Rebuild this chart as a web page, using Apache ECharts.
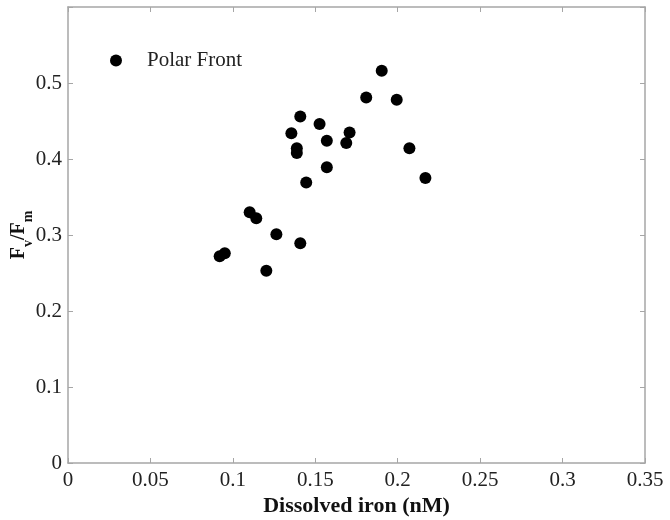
<!DOCTYPE html>
<html>
<head>
<meta charset="utf-8">
<script src="https://cdn.jsdelivr.net/npm/echarts@6/dist/echarts.min.js"></script>
<style>
html,body{margin:0;padding:0;background:#fff;}
#chart{width:670px;height:520px;}
</style>
</head>
<body>
<div id="chart"></div>
<script>
const seriesName = 'Polar Front';
const ironValues = [0.1903, 0.1809, 0.1994, 0.1409, 0.1526, 0.1355, 0.1708, 0.1570, 0.1688, 0.2071, 0.1388, 0.1388, 0.1570, 0.2168, 0.1445, 0.1102, 0.1142, 0.1264, 0.1409, 0.0951, 0.0920, 0.1203];
const fvfmValues = [0.516, 0.481, 0.478, 0.456, 0.446, 0.434, 0.435, 0.424, 0.421, 0.414, 0.414, 0.408, 0.389, 0.375, 0.369, 0.330, 0.322, 0.301, 0.289, 0.276, 0.272, 0.253];
const xTicks = [0, 0.05, 0.1, 0.15, 0.2, 0.25, 0.3, 0.35];
const yTicks = [0, 0.1, 0.2, 0.3, 0.4, 0.5, 0.6];

const points = ironValues.map((x, i) => [x, fvfmValues[i]]);
const FONT = '"Liberation Serif", "Times New Roman", serif';
const axisGrey = '#a6a6a6';

const chart = echarts.init(document.getElementById('chart'), null, {renderer: 'canvas'});
const baseAxisLine = {show: true, onZero: false, lineStyle: {color: axisGrey, width: 1.5}};
const baseTick = {show: true, inside: true, length: 5, lineStyle: {color: axisGrey, width: 1}};

chart.setOption({
  animation: false,
  backgroundColor: '#fff',
  grid: {left: 68, right: 25, top: 7, bottom: 57, containLabel: false, outerBoundsMode: 'none'},
  legend: {
    show: true,
    left: 105,
    top: 45,
    data: [seriesName],
    icon: 'circle',
    itemWidth: 12,
    itemHeight: 12,
    itemStyle: {opacity: 1},
    textStyle: {fontFamily: FONT, fontSize: 21, color: '#222', padding: [0, 0, 0, 20]}
  },
  xAxis: [{
    type: 'value',
    min: xTicks[0],
    max: xTicks[xTicks.length - 1],
    interval: 0.05,
    position: 'bottom',
    name: 'Dissolved iron (nM)',
    nameLocation: 'middle',
    nameGap: 32,
    nameMoveOverlap: false,
    nameTextStyle: {fontFamily: FONT, fontSize: 22, fontWeight: 'bold', color: '#111'},
    axisLine: baseAxisLine,
    axisTick: baseTick,
    splitLine: {show: false},
    axisLabel: {fontFamily: FONT, fontSize: 21, color: '#222', margin: 7,
      formatter: v => String(+v.toFixed(2))}
  }, {
    type: 'value',
    min: xTicks[0],
    max: xTicks[xTicks.length - 1],
    interval: 0.05,
    position: 'top',
    axisLine: baseAxisLine,
    axisTick: baseTick,
    splitLine: {show: false},
    axisLabel: {show: false}
  }],
  yAxis: [{
    type: 'value',
    min: yTicks[0],
    max: yTicks[yTicks.length - 1],
    interval: 0.1,
    position: 'left',
    name: '{b|F}{s|v}{b|/F}{s|m}',
    nameLocation: 'middle',
    nameRotate: 90,
    nameGap: 33,
    nameMoveOverlap: false,
    nameTextStyle: {
      fontFamily: FONT, fontSize: 20, fontWeight: 'bold', color: '#111',
      rich: {
        b: {fontFamily: FONT, fontSize: 20, fontWeight: 'bold', color: '#111', lineHeight: 26, verticalAlign: 'top'},
        s: {fontFamily: FONT, fontSize: 14, fontWeight: 'bold', color: '#111', lineHeight: 26, verticalAlign: 'bottom'}
      }
    },
    axisLine: baseAxisLine,
    axisTick: baseTick,
    splitLine: {show: false},
    axisLabel: {fontFamily: FONT, fontSize: 21, color: '#222', margin: 6,
      formatter: v => (Math.abs(v - 0.6) < 1e-9 ? '' : String(+v.toFixed(1)))}
  }, {
    type: 'value',
    min: yTicks[0],
    max: yTicks[yTicks.length - 1],
    interval: 0.1,
    position: 'right',
    axisLine: baseAxisLine,
    axisTick: baseTick,
    splitLine: {show: false},
    axisLabel: {show: false}
  }],
  series: [{
    name: seriesName,
    type: 'scatter',
    xAxisIndex: 0,
    yAxisIndex: 0,
    symbol: 'circle',
    symbolSize: 12,
    itemStyle: {color: '#000', opacity: 1},
    data: points
  }]
});
</script>
</body>
</html>
